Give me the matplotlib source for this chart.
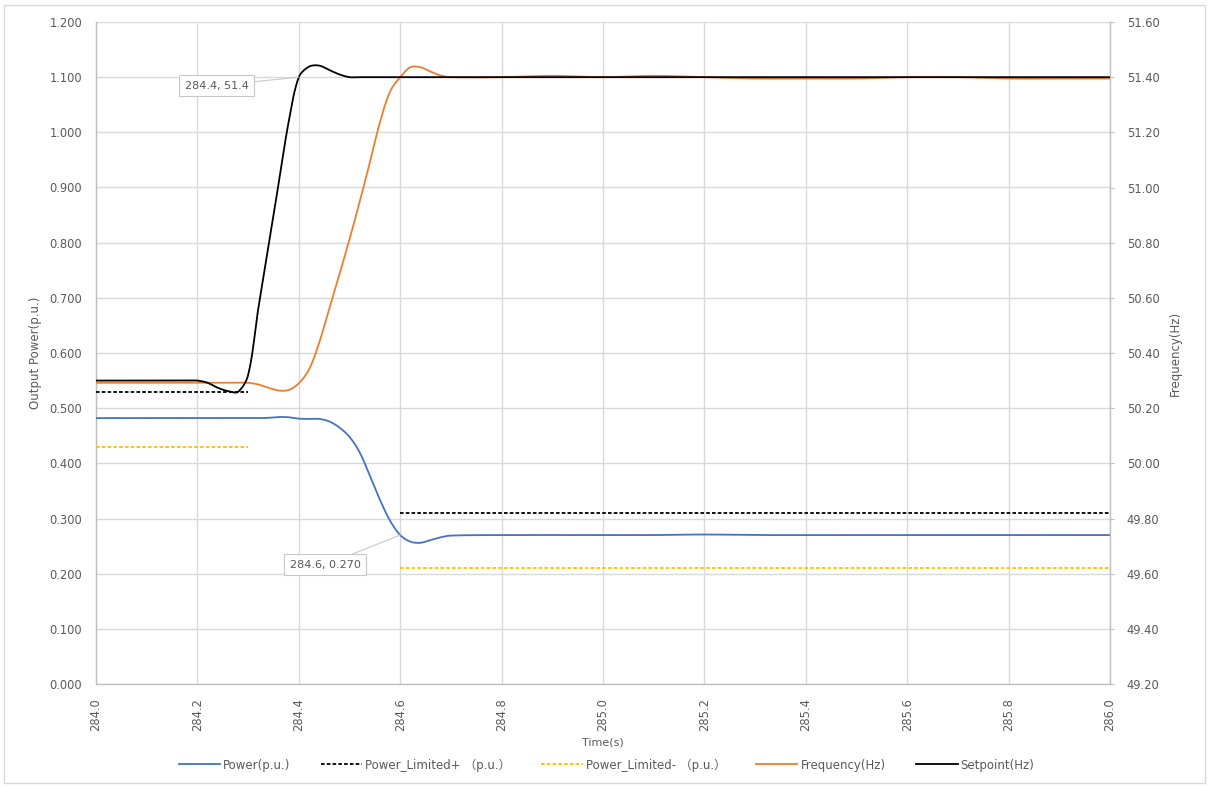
import numpy as np
import matplotlib
matplotlib.use("Agg")
import matplotlib.pyplot as plt
from matplotlib.patches import Rectangle
from matplotlib.lines import Line2D

plt.rcParams['font.family'] = ['DejaVu Sans', 'Noto Sans CJK SC']

# ---- data -------------------------------------------------------------
time_s = [284.0, 284.1, 284.14, 284.16, 284.18, 284.20, 284.22, 284.24, 284.26, 284.28,
          284.30, 284.32, 284.34, 284.36, 284.38, 284.40, 284.42, 284.44, 284.46, 284.48,
          284.50, 284.52, 284.54, 284.56, 284.58, 284.60, 284.62, 284.64, 284.66, 284.68,
          284.70, 284.8, 284.9, 285.0, 285.1, 285.2, 285.3, 285.4, 285.5, 285.6,
          285.7, 285.8, 285.9, 286.0]

power_pu = [0.482, 0.482, 0.482, 0.482, 0.482, 0.482, 0.482, 0.482, 0.482, 0.482,
            0.482, 0.482, 0.4825, 0.484, 0.4835, 0.481, 0.4805, 0.4805, 0.476, 0.465,
            0.448, 0.420, 0.378, 0.334, 0.296, 0.270, 0.258, 0.256, 0.261, 0.266,
            0.269, 0.270, 0.270, 0.270, 0.270, 0.271, 0.270, 0.270, 0.270, 0.270,
            0.270, 0.270, 0.270, 0.270]

frequency_hz = [50.292, 50.292, 50.292, 50.292, 50.292, 50.292, 50.292, 50.292, 50.292, 50.292,
                50.292, 50.286, 50.274, 50.264, 50.266, 50.29, 50.34, 50.436, 50.56, 50.684,
                50.812, 50.948, 51.09, 51.236, 51.348, 51.40, 51.436, 51.436, 51.42, 51.406,
                51.40, 51.40, 51.405, 51.40, 51.405, 51.40, 51.395, 51.395, 51.395, 51.40,
                51.40, 51.395, 51.395, 51.395]

setpoint_hz = [50.30, 50.30, 50.30, 50.30, 50.30, 50.30, 50.292, 50.274, 50.262, 50.259,
               50.32, 50.56, 50.784, 51.012, 51.238, 51.40, 51.438, 51.442, 51.426, 51.41,
               51.40, 51.40, 51.40, 51.40, 51.40, 51.40, 51.40, 51.40, 51.40, 51.40,
               51.40, 51.40, 51.40, 51.40, 51.40, 51.40, 51.40, 51.40, 51.40, 51.40,
               51.40, 51.40, 51.40, 51.40]

nan = float('nan')
limit_time = [284.0, 284.3, 284.45, 284.6, 286.0]
power_limited_plus = [0.53, 0.53, nan, 0.31, 0.31]
power_limited_minus = [0.43, 0.43, nan, 0.21, 0.21]

left_ticks = [0.0, 0.1, 0.2, 0.3, 0.4, 0.5, 0.6, 0.7, 0.8, 0.9, 1.0, 1.1, 1.2]
right_ticks = [49.2, 49.4, 49.6, 49.8, 50.0, 50.2, 50.4, 50.6, 50.8, 51.0, 51.2, 51.4, 51.6]
x_ticks = [284.0, 284.2, 284.4, 284.6, 284.8, 285.0, 285.2, 285.4, 285.6, 285.8, 286.0]

series_labels = ['Power(p.u.)', 'Power_Limited+ （p.u.）', 'Power_Limited- （p.u.）',
                 'Frequency(Hz)', 'Setpoint(Hz)']

# ---- smoothing (Bezier through every point, handles scaled by segment length) --
def smooth_curve(x, y, sx, sy, steps=30):
    P = np.column_stack([np.asarray(x) * sx, np.asarray(y) * sy])
    n = len(P)
    xs, ys = [], []
    for i in range(n - 1):
        p0, p3 = P[i], P[i + 1]
        prev = P[i - 1] if i > 0 else P[i]
        nxt = P[i + 2] if i + 2 < n else P[i + 1]
        dp = np.linalg.norm(p0 - prev)
        dn = np.linalg.norm(p3 - p0)
        c1 = p0 + (p3 - prev) * (dn / (3 * (dp + dn)) if dp + dn > 0 else 0)
        dn2 = np.linalg.norm(nxt - p3)
        c2 = p3 - (nxt - p0) * (dn / (3 * (dn + dn2)) if dn + dn2 > 0 else 0)
        t = np.linspace(0, 1, steps)[:, None]
        b = ((1 - t) ** 3) * p0 + 3 * ((1 - t) ** 2) * t * c1 + 3 * (1 - t) * t ** 2 * c2 + t ** 3 * p3
        xs.append(b[:, 0] / sx)
        ys.append(b[:, 1] / sy)
    return np.concatenate(xs), np.concatenate(ys)

# ---- figure -------------------------------------------------------------
W, H = 1211, 787
fig = plt.figure(figsize=(W / 100, H / 100), dpi=100)
fig.patches.append(Rectangle((4 / W, 4 / H), 1201 / W, 778 / H, transform=fig.transFigure,
                             fill=False, edgecolor='#d9d9d9', linewidth=1.0))

left, right, top, bottom = 96, 1110, 22, 684
ax = fig.add_axes([left / W, 1 - bottom / H, (right - left) / W, (bottom - top) / H])
ax2 = ax.twinx()

grid_c = '#d9d9d9'
text_c = '#595959'
tick_fs = 8.3

ax.set_xlim(284.0, 286.0)
ax.set_ylim(0, 1.2)
ax2.set_ylim(49.2, 51.6)

ax.set_xticks(x_ticks)
ax.set_xticklabels([f'{v:.1f}' for v in x_ticks], rotation=90)
ax.set_yticks(left_ticks)
ax.set_yticklabels([f'{v:.3f}' for v in left_ticks])
ax2.set_yticks(right_ticks)
ax2.set_yticklabels([f'{v:.2f}' for v in right_ticks])

ax.grid(True, color=grid_c, linewidth=1.0)
ax.set_axisbelow(True)
for a in (ax, ax2):
    for s in a.spines.values():
        s.set_visible(False)
ax.spines['left'].set_visible(True)
ax.spines['bottom'].set_visible(True)
ax2.spines['right'].set_visible(True)
for s in (ax.spines['left'], ax.spines['bottom'], ax2.spines['right']):
    s.set_color('#bfbfbf')
    s.set_linewidth(1.0)

ax.tick_params(axis='y', length=0, labelsize=tick_fs, labelcolor=text_c, pad=10)
ax.tick_params(axis='x', length=0, labelsize=tick_fs, labelcolor=text_c, pad=10)
ax2.tick_params(axis='y', length=3, color='#bfbfbf', labelsize=tick_fs, labelcolor=text_c, pad=9)

# pixel scales used for smoothing
sx = (right - left) / 2.0
sy_left = (bottom - top) / 1.2
sy_right = (bottom - top) / 2.4

lw = 1.3
dash = (0, (2, 1.2))
px, py = smooth_curve(time_s, power_pu, sx, sy_left)
ax.plot(px, py, color='#4472C4', lw=lw, zorder=3)
ax.plot(limit_time, power_limited_plus, color='#000000', lw=lw, ls=dash, zorder=3)
ax.plot(limit_time, power_limited_minus, color='#FFC000', lw=lw, ls=dash, zorder=3)

fx, fy = smooth_curve(time_s, frequency_hz, sx, sy_right)
ax2.plot(fx, fy, color='#ED7D31', lw=lw, zorder=3)
spx, spy = smooth_curve(time_s, setpoint_hz, sx, sy_right)
ax2.plot(spx, spy, color='#000000', lw=lw, zorder=4)

ax.set_xlabel('Time(s)', fontsize=8, color=text_c, labelpad=5)
ax.set_ylabel('Output Power(p.u.)', fontsize=8.5, color=text_c, labelpad=5)
ax2.set_ylabel('Frequency(Hz)', fontsize=8.5, color=text_c, labelpad=7)

# data callouts
box = dict(boxstyle='square,pad=0.5', fc='white', ec='#c8c8c8', lw=0.8)
arrow = dict(arrowstyle='-', color='#c8c8c8', lw=0.8, shrinkA=0, shrinkB=0)
i_sp = time_s.index(284.4)
i_pw = time_s.index(284.6)
ax2.annotate(f'{time_s[i_sp]:.1f}, {setpoint_hz[i_sp]:.1f}', xy=(time_s[i_sp], setpoint_hz[i_sp]),
             xytext=(-59, -6), textcoords='offset points', ha='center', va='center',
             fontsize=8, color=text_c, bbox=box, arrowprops=arrow, zorder=6)
ax.annotate(f'{time_s[i_pw]:.1f}, {power_pu[i_pw]:.3f}', xy=(time_s[i_pw], power_pu[i_pw]),
            xytext=(-54, -21.5), textcoords='offset points', ha='center', va='center',
            fontsize=8, color=text_c, bbox=box, arrowprops=arrow, zorder=6)

handles = [
    Line2D([], [], color='#4472C4', lw=lw),
    Line2D([], [], color='#000000', lw=lw, ls=dash),
    Line2D([], [], color='#FFC000', lw=lw, ls=dash),
    Line2D([], [], color='#ED7D31', lw=lw),
    Line2D([], [], color='#000000', lw=lw),
]
fig.legend(handles, series_labels, loc='center', bbox_to_anchor=(606.5 / W, 1 - 765 / H),
           ncol=5, frameon=False, fontsize=8.5, handlelength=3.5, handletextpad=0.25,
           columnspacing=2.6, labelcolor=text_c)

fig.savefig('out.png', dpi=100)
